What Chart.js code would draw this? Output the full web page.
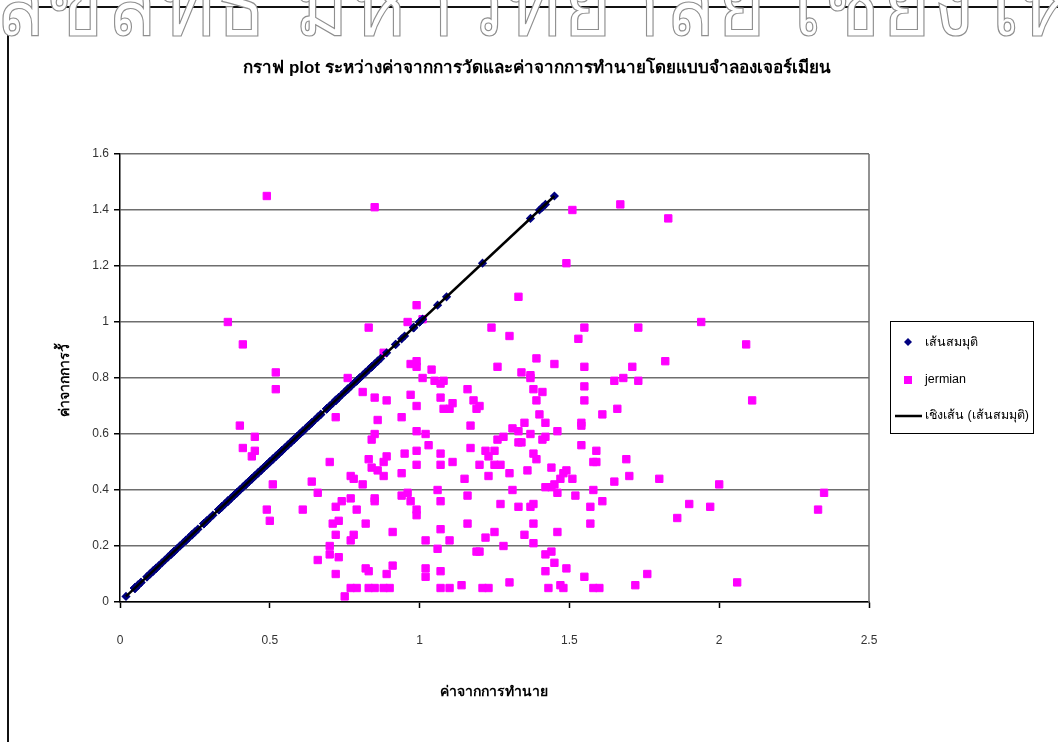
<!DOCTYPE html>
<html>
<head>
<meta charset="utf-8">
<script src="https://cdn.jsdelivr.net/npm/chart.js@4.4.1/dist/chart.umd.min.js"></script>
<style>
  html, body { margin: 0; padding: 0; background: #fff; }
  #wrap { position: relative; width: 1058px; height: 742px; overflow: hidden; background: #fff; }
  #frame { position: absolute; left: 7px; top: 6px; width: 1200px; height: 900px;
           border-left: 2px solid #111; border-top: 2px solid #111; }
  #chart { position: absolute; left: 0; top: 0; }
  #mark { position: absolute; left: -6px; top: -68px; white-space: nowrap;
          font: 90px Tahoma, "Liberation Sans", sans-serif; color: #fff;
          -webkit-text-stroke: 1.2px #8f8f8f; letter-spacing: 2px;
          transform: scaleX(0.93); transform-origin: left top; }
</style>
</head>
<body>
<div id="wrap">
  <div id="frame"></div>
  <canvas id="chart" width="1058" height="742"></canvas>
  <div id="mark">ลิขสิทธิ์ มหาวิทยาลัย เชียงใหม่</div>
</div>
<script>
// Predicted values (x) and measured values (y) for the jermian model, paired by index
const predicted = [
  0.49,0.85,0.36,0.41,0.52,0.52,0.83,0.96,0.99,1.01,0.88,0.97,0.99,0.99,1.04,1.01,1.05,1.08,0.76,1.24,
  1.51,1.67,1.83,1.49,1.33,1.30,1.55,1.53,1.73,1.94,2.09,1.26,1.39,1.34,1.37,1.45,1.55,1.71,1.82,1.65,
  1.68,1.73,1.37,1.07,
  1.38,1.41,1.39,1.55,1.55,2.11,1.20,1.40,1.42,1.35,1.31,1.33,1.37,1.46,1.61,1.66,1.54,1.54,1.26,1.28,
  1.33,1.34,1.41,1.42,1.22,1.25,1.23,1.38,1.39,1.20,1.25,1.27,1.30,1.23,1.36,1.44,1.48,1.49,1.47,1.51,
  1.45,1.42,1.44,1.46,1.58,1.59,1.59,1.54,1.69,1.70,1.65,1.80,2.00,2.35,2.33,1.31,1.52,1.58,1.61,1.57,
  1.27,1.33,1.37,1.38,1.90,1.97,1.86,1.57,1.38,1.25,1.22,1.35,1.46,1.28,1.38,1.20,1.42,1.44,1.45,1.49,
  1.42,1.55,1.76,2.06,1.30,1.72,1.21,1.23,1.43,1.47,1.48,1.58,1.60,
  0.40,0.45,0.41,0.45,0.44,0.51,0.49,0.50,0.61,0.72,0.81,0.85,0.89,0.97,0.99,1.07,1.08,1.10,1.11,1.16,
  1.18,1.19,0.86,0.94,0.99,1.02,0.85,0.84,1.03,1.17,1.17,0.70,0.83,0.84,0.86,0.88,0.88,0.89,0.95,0.94,
  0.99,0.99,1.07,1.07,1.11,1.15,1.16,0.64,0.66,0.77,0.78,0.81,0.94,0.96,0.97,0.99,0.99,1.06,1.07,0.72,
  0.74,0.77,0.79,0.85,0.85,0.71,0.73,0.82,0.72,0.77,0.78,0.91,1.02,1.07,1.06,1.10,1.16,1.19,0.70,0.70,
  0.66,0.73,0.72,0.82,0.83,0.89,0.91,1.02,1.02,1.07,1.14,0.77,0.79,0.83,0.85,0.88,0.90,0.75,1.07,1.10
];
const measured = [
  1.45,1.41,1.00,0.92,0.82,0.76,0.98,1.00,1.06,1.01,0.89,0.85,0.86,0.84,0.83,0.80,0.79,0.79,0.80,0.98,
  1.40,1.42,1.37,1.21,1.09,0.95,0.98,0.94,0.98,1.00,0.92,0.84,0.87,0.82,0.81,0.85,0.84,0.84,0.86,0.79,
  0.80,0.79,0.80,0.78,
  0.76,0.75,0.72,0.77,0.72,0.72,0.70,0.67,0.64,0.64,0.62,0.61,0.60,0.61,0.67,0.69,0.64,0.63,0.58,0.59,
  0.57,0.57,0.58,0.59,0.54,0.54,0.52,0.53,0.51,0.49,0.49,0.49,0.46,0.45,0.47,0.48,0.46,0.47,0.44,0.44,
  0.42,0.41,0.41,0.39,0.50,0.50,0.54,0.56,0.51,0.45,0.43,0.44,0.42,0.39,0.33,0.40,0.38,0.40,0.36,0.34,
  0.35,0.34,0.34,0.35,0.35,0.34,0.30,0.28,0.28,0.25,0.23,0.24,0.25,0.20,0.21,0.18,0.17,0.18,0.14,0.12,
  0.11,0.09,0.10,0.07,0.07,0.06,0.05,0.05,0.05,0.06,0.05,0.05,0.05,
  0.63,0.59,0.55,0.54,0.52,0.42,0.33,0.29,0.33,0.66,0.75,0.73,0.72,0.74,0.70,0.73,0.69,0.69,0.71,0.76,
  0.72,0.69,0.65,0.66,0.61,0.60,0.60,0.58,0.56,0.63,0.55,0.50,0.51,0.48,0.47,0.45,0.50,0.52,0.53,0.46,
  0.54,0.49,0.53,0.49,0.50,0.44,0.38,0.43,0.39,0.45,0.44,0.42,0.38,0.39,0.36,0.33,0.31,0.40,0.36,0.34,
  0.36,0.37,0.33,0.37,0.36,0.28,0.29,0.28,0.24,0.22,0.24,0.25,0.22,0.26,0.19,0.22,0.28,0.18,0.20,0.17,
  0.15,0.16,0.10,0.12,0.11,0.10,0.13,0.12,0.09,0.11,0.06,0.05,0.05,0.05,0.05,0.05,0.05,0.02,0.05,0.05
];

const xTicks = [0, 0.5, 1, 1.5, 2, 2.5];
const yTicks = [0, 0.2, 0.4, 0.6, 0.8, 1, 1.2, 1.4, 1.6];

const titleText = 'กราฟ plot ระหว่างค่าจากการวัดและค่าจากการทำนายโดยแบบจำลองเจอร์เมียน';
const xTitle = 'ค่าจากการทำนาย';
const yTitle = 'ค่าจากการวั้';
const seriesNames = ['เส้นสมมุติ', 'jermian', 'เชิงเส้น (เส้นสมมุติ)'];

// Jermian scatter: (predicted, measured)
const jermianPts = predicted.map((p, i) => ({ x: p, y: measured[i] }));
// Reference line series: each measured value plotted against itself
const refPts = measured.map(m => ({ x: m, y: m }));

// Least-squares linear trend of the reference series
function linearFit(pts) {
  const n = pts.length;
  let sx = 0, sy = 0, sxx = 0, sxy = 0;
  pts.forEach(p => { sx += p.x; sy += p.y; sxx += p.x * p.x; sxy += p.x * p.y; });
  const slope = (n * sxy - sx * sy) / (n * sxx - sx * sx);
  const icpt = (sy - slope * sx) / n;
  const xs = pts.map(p => p.x);
  const x0 = Math.min(...xs), x1 = Math.max(...xs);
  return [{ x: x0, y: icpt + slope * x0 }, { x: x1, y: icpt + slope * x1 }];
}
const trendPts = linearFit(refPts);

const THAI = 'Tahoma, "Liberation Sans", "DejaVu Sans", sans-serif';
const NAVY = '#000080', MAGENTA = '#ff00ff';

const decor = {
  id: 'decor',
  beforeDatasetsDraw(chart) {
    const { ctx, chartArea: a } = chart;
    ctx.save();
    ctx.strokeStyle = '#6e6e6e';
    ctx.lineWidth = 1.5;
    ctx.beginPath();
    ctx.moveTo(a.right, a.top);
    ctx.lineTo(a.right, a.bottom);
    ctx.stroke();
    ctx.restore();
  },
  afterDraw(chart) {
    const { ctx } = chart;
    ctx.save();
    ctx.fillStyle = '#000';
    ctx.textBaseline = 'middle';
    ctx.textAlign = 'center';
    // chart title
    ctx.font = 'bold 17px ' + THAI;
    ctx.fillText(titleText, 537, 68);
    // axis titles
    ctx.font = 'bold 14px ' + THAI;
    ctx.fillText(xTitle, 494, 692);
    ctx.save();
    ctx.translate(65, 380);
    ctx.rotate(-Math.PI / 2);
    ctx.fillText(yTitle, 0, 0);
    ctx.restore();

    // legend box
    ctx.strokeStyle = '#000';
    ctx.lineWidth = 1;
    ctx.strokeRect(890.5, 321.5, 143, 112);
    ctx.textAlign = 'left';
    ctx.font = '12.5px ' + THAI;
    // diamond marker
    ctx.fillStyle = NAVY;
    ctx.beginPath();
    ctx.moveTo(908, 338); ctx.lineTo(912, 342); ctx.lineTo(908, 346); ctx.lineTo(904, 342);
    ctx.closePath(); ctx.fill();
    // square marker
    ctx.fillStyle = MAGENTA;
    ctx.fillRect(904, 376, 8, 8);
    // trend line sample
    ctx.strokeStyle = '#000';
    ctx.lineWidth = 2.5;
    ctx.beginPath(); ctx.moveTo(895, 416); ctx.lineTo(922, 416); ctx.stroke();
    ctx.fillStyle = '#000';
    ctx.fillText(seriesNames[0], 925, 343);
    ctx.fillText(seriesNames[1], 925, 380);
    ctx.fillText(seriesNames[2], 925, 416);
    ctx.restore();
  }
};

new Chart(document.getElementById('chart'), {
  type: 'scatter',
  data: {
    datasets: [
      {
        label: seriesNames[2],
        data: trendPts,
        showLine: true,
        borderColor: '#000',
        borderWidth: 2.5,
        pointRadius: 0,
        order: 0
      },
      {
        label: seriesNames[0],
        data: refPts,
        pointStyle: 'rectRot',
        pointRadius: 4.6,
        backgroundColor: NAVY,
        borderColor: NAVY,
        borderWidth: 0,
        order: 1
      },
      {
        label: seriesNames[1],
        data: jermianPts,
        pointStyle: 'rect',
        pointRadius: 5.2,
        backgroundColor: MAGENTA,
        borderColor: MAGENTA,
        borderWidth: 1,
        order: 2
      }
    ]
  },
  options: {
    responsive: false,
    animation: false,
    devicePixelRatio: 1,
    layout: { padding: { left: 60, right: 189, top: 154, bottom: 90 } },
    plugins: { legend: { display: false }, tooltip: { enabled: false }, title: { display: false } },
    scales: {
      x: {
        type: 'linear',
        min: 0, max: 2.5,
        afterBuildTicks: s => { s.ticks = xTicks.map(v => ({ value: v })); },
        afterFit: s => { s.height = 50; },
        grid: { drawOnChartArea: false, drawTicks: true, tickLength: 6, tickColor: '#000', tickWidth: 1.5 },
        border: { display: true, color: '#000', width: 1.5 },
        ticks: { color: '#333', font: { family: '"Liberation Sans", Arial, sans-serif', size: 12 }, padding: 25,
                 maxRotation: 0, callback: v => String(v) }
      },
      y: {
        type: 'linear',
        min: 0, max: 1.6,
        afterBuildTicks: s => { s.ticks = yTicks.map(v => ({ value: v })); },
        afterFit: s => { s.width = 60; },
        grid: { color: '#6e6e6e', lineWidth: 1.5, drawTicks: true, tickLength: 6, tickColor: '#000', tickWidth: 1.5 },
        border: { display: true, color: '#000', width: 1.5 },
        ticks: { color: '#333', font: { family: '"Liberation Sans", Arial, sans-serif', size: 12 }, padding: 5,
                 callback: v => String(v) }
      }
    }
  },
  plugins: [decor]
});
</script>
</body>
</html>
